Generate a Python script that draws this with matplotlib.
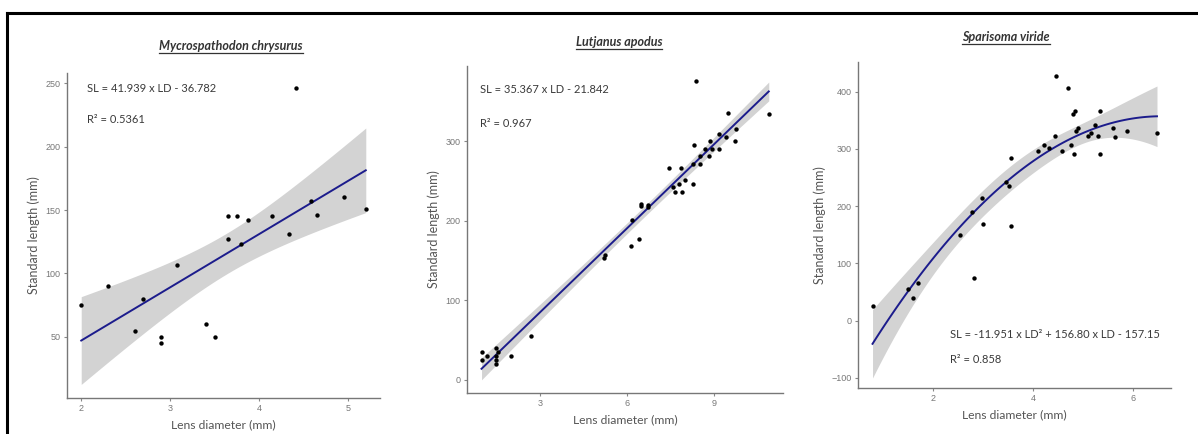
import matplotlib
matplotlib.use("Agg")
import matplotlib.pyplot as plt
import numpy as np
from matplotlib.lines import Line2D

# --- data ---
titles = ['Mycrospathodon chrysurus', 'Lutjanus apodus', 'Sparisoma viride']

ld_chrysurus = [2.0, 2.3, 2.6, 2.7, 2.9, 2.9, 3.08, 3.4, 3.5, 3.65, 3.65, 3.75, 3.8,
                3.88, 4.15, 4.34, 4.42, 4.58, 4.65, 4.96, 5.2]
sl_chrysurus = [75, 90, 55, 80, 50, 45, 107, 60, 50, 145, 127, 145, 123,
                142, 145, 131, 246, 157, 146, 160, 151]

ld_apodus = [1.0, 1.0, 1.2, 1.5, 1.5, 1.5, 1.5, 1.55, 2.0, 2.7, 5.2, 5.25, 6.15, 6.18,
             6.41, 6.5, 6.5, 6.72, 6.72, 7.44, 7.6, 7.67, 7.79, 7.87, 7.9, 8.01, 8.29,
             8.27, 8.31, 8.37, 8.5, 8.5, 8.69, 8.84, 8.87, 8.93, 9.18, 9.18, 9.42,
             9.47, 9.72, 9.75, 10.88]
sl_apodus = [35, 25, 30, 40, 25, 20, 30, 35, 30, 55, 153, 157, 168, 201,
             177, 221, 218, 220, 217, 266, 243, 236, 246, 266, 236, 251, 246,
             271, 295, 376, 282, 271, 291, 282, 300, 291, 309, 291, 306,
             336, 300, 315, 335]

ld_viride = [0.79, 1.5, 1.6, 1.7, 2.54, 2.78, 2.81, 2.97, 2.99, 3.45, 3.52, 3.56, 3.56,
             4.09, 4.22, 4.32, 4.43, 4.46, 4.58, 4.7, 4.76, 4.79, 4.81, 4.83, 4.85,
             4.89, 5.09, 5.15, 5.23, 5.29, 5.34, 5.34, 5.59, 5.63, 5.87, 6.47]
sl_viride = [26, 55, 40, 65, 150, 189, 75, 214, 169, 243, 236, 285, 166,
             297, 307, 301, 322, 427, 297, 407, 307, 361, 291, 367, 332,
             336, 322, 328, 341, 322, 367, 291, 336, 321, 331, 328]

# fitted polynomial coefficients (highest power first), as reported
coef_chrysurus = [41.939, -36.782]
coef_apodus = [35.367, -21.842]
coef_viride = [-11.951, 156.80, -157.15]

eq_texts = ['SL = 41.939 x LD - 36.782', 'SL = 35.367 x LD - 21.842',
            'SL = -11.951 x LD² + 156.80 x LD - 157.15']
r2_texts = ['R² = 0.5361', 'R² = 0.967', 'R² = 0.858']

xticks = [[2, 3, 4, 5], [3, 6, 9], [2, 4, 6]]
yticks = [[50, 100, 150, 200, 250], [0, 100, 200, 300], [-100, 0, 100, 200, 300, 400]]

# 95% t critical values for n - p degrees of freedom
t_crit = [2.093, 2.020, 2.035]

W, H = 1198, 434
fig = plt.figure(figsize=(W / 100, H / 100), dpi=100)

# axes boxes in pixels: left, right, top, bottom
boxes = [(67, 380, 73, 398), (467, 783, 66, 393), (858, 1171, 62, 388)]
xlims = [(1.84, 5.36), (0.5, 11.37), (0.5, 6.75)]
ylims = [(1.8, 258), (-17, 395), (-118, 452)]
text_pos = [(2.07, 246, 221), (0.94, 365, 323), (2.34, -24, -69)]
title_px = [(231, 46), (619, 42), (1006, 37)]

sets = [(ld_chrysurus, sl_chrysurus, coef_chrysurus),
        (ld_apodus, sl_apodus, coef_apodus),
        (ld_viride, sl_viride, coef_viride)]

gray_txt = '#555555'
axes = []
for i, (xs, ys, coef) in enumerate(sets):
    l, r, t, b = boxes[i]
    ax = fig.add_axes([l / W, 1 - b / H, (r - l) / W, (b - t) / H])
    axes.append(ax)
    x = np.array(xs)
    y = np.array(ys)
    deg = len(coef) - 1

    # confidence band like geom_smooth
    X = np.vander(x, deg + 1)
    resid = y - np.polyval(coef, x)
    s2 = np.sum(resid ** 2) / (len(x) - deg - 1)
    cov = np.linalg.inv(X.T @ X)
    xg = np.linspace(x.min(), x.max(), 80)
    Xg = np.vander(xg, deg + 1)
    yg = np.polyval(coef, xg)
    se = np.sqrt(s2 * np.einsum('ij,jk,ik->i', Xg, cov, Xg))
    ax.fill_between(xg, yg - t_crit[i] * se, yg + t_crit[i] * se,
                    color='#d3d3d3', lw=0, zorder=1)
    ax.plot(xg, yg, color='#1c1c8c', lw=1.4, zorder=2)
    ax.scatter(x, y, s=10, color='black', zorder=3, lw=0)

    ax.set_xlim(*xlims[i])
    ax.set_ylim(*ylims[i])
    ax.set_xticks(xticks[i])
    ax.set_yticks(yticks[i])
    for sp in ['top', 'right']:
        ax.spines[sp].set_visible(False)
    for sp in ['left', 'bottom']:
        ax.spines[sp].set_color('#777777')
        ax.spines[sp].set_linewidth(1.0)
    ax.tick_params(colors='#888888', labelcolor='#777777', labelsize=6.5,
                   length=2.5, width=0.8, pad=2)
    for lab in ax.get_xticklabels() + ax.get_yticklabels():
        lab.set_family('Liberation Sans')
    ax.set_xlabel('Lens diameter (mm)', family='Lato', fontsize=8.7,
                  color=gray_txt, labelpad=4)
    ax.set_ylabel('Standard length (mm)', family='Lato', fontsize=9,
                  color=gray_txt, labelpad=4)

    tx, ty1, ty2 = text_pos[i]
    ax.text(tx, ty1, eq_texts[i], family='Lato', fontsize=8, color='#3a3a3a',
            va='center', ha='left')
    ax.text(tx, ty2, r2_texts[i], family='Lato', fontsize=8, color='#3a3a3a',
            va='center', ha='left')

titles_art = []
for i, name in enumerate(titles):
    px, py = title_px[i]
    tt = fig.text(px / W, 1 - py / H, name, family='Lato', style='italic',
                  weight='bold', fontsize=9, color='#333333', ha='center', va='center')
    titles_art.append(tt)

# frame lines along top and left edges
fig.add_artist(Line2D([7 / W, 1], [1 - 13 / H, 1 - 13 / H], color='black', lw=2.2))
fig.add_artist(Line2D([7 / W, 7 / W], [0, 1 - 13 / H], color='black', lw=2.2))

# underline the titles
fig.canvas.draw()
rend = fig.canvas.get_renderer()
for tt in titles_art:
    bb = tt.get_window_extent(rend)
    yl = bb.y0 - 0.5
    fig.add_artist(Line2D([bb.x0 / W, bb.x1 / W], [yl / H, yl / H],
                          color='#333333', lw=0.9))

fig.savefig('out.png', dpi=100)
plt.close(fig)
